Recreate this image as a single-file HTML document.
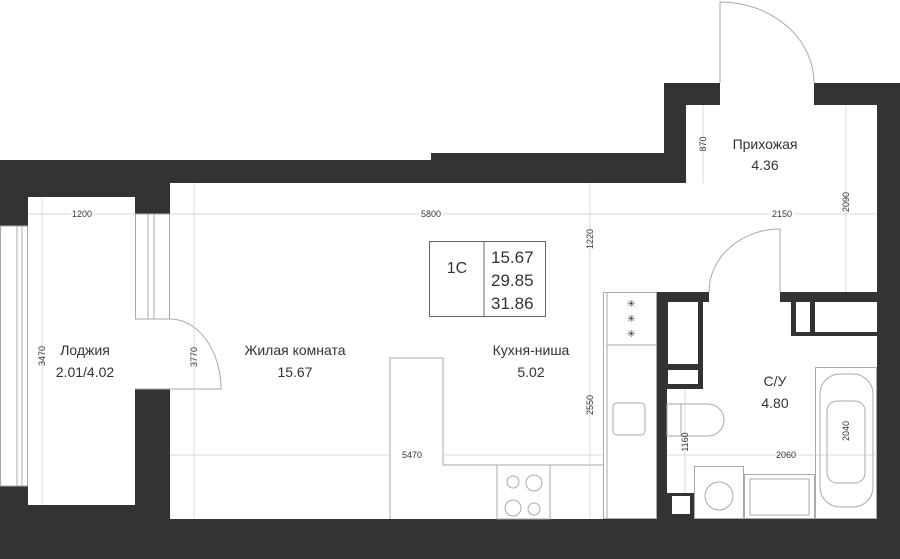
<!DOCTYPE html>
<html><head><meta charset="utf-8"><style>
html,body{margin:0;padding:0;background:#fff;}
svg{display:block;}
text{font-family:"Liberation Sans",sans-serif;fill:#333;}
.l{font-size:14px;}
.d{font-size:9px;fill:#777;}
</style></head><body>
<svg width="900" height="559" viewBox="0 0 900 559" xmlns="http://www.w3.org/2000/svg">
<g fill="#333">
<rect x="0" y="160" width="432" height="23"/>
<rect x="431" y="153" width="255" height="30"/>
<rect x="664" y="83" width="22" height="100"/>
<rect x="664" y="83" width="56" height="22"/>
<rect x="814" y="83" width="86" height="22"/>
<rect x="877" y="83" width="23" height="476"/>
<rect x="0" y="519" width="900" height="40"/>
<rect x="0" y="160" width="28" height="66"/>
<rect x="0" y="486" width="28" height="73"/>
<rect x="0" y="505" width="170" height="54"/>
<rect x="28" y="160" width="107" height="37"/>
<rect x="135" y="160" width="35" height="54"/>
<rect x="135" y="389" width="35" height="130"/>
<rect x="657" y="292" width="52" height="10"/>
<rect x="780" y="292" width="97" height="10"/>
<rect x="657" y="292" width="10" height="227"/>
<rect x="667" y="302" width="36" height="87"/>
<rect x="791" y="302" width="86" height="34"/>
<rect x="667" y="493" width="27" height="26"/>
</g>
<g fill="#fff">
<rect x="668" y="302" width="30" height="62"/>
<rect x="668" y="370" width="30" height="14"/>
<rect x="796" y="302" width="14" height="30"/>
<rect x="815" y="302" width="62" height="30"/>
<rect x="672" y="496" width="18" height="18"/>
</g>
<g fill="none" stroke="#aaa" stroke-width="1">
<rect x="0.5" y="226" width="27" height="260"/>
<line x1="17" y1="226" x2="17" y2="486"/><line x1="22" y1="226" x2="22" y2="486"/>
<rect x="135.5" y="214" width="34" height="105"/>
<rect x="148" y="214" width="6" height="105"/>
<line x1="135" y1="319" x2="170" y2="319"/><line x1="135" y1="389" x2="222" y2="389"/>
<path d="M170 319 A51 70 0 0 1 221 389"/>
<path d="M720 83 L720 2 A94 81 0 0 1 814 83"/>
<path d="M780 292 L780 229 A71 63 0 0 0 709 292"/>
<rect x="603.5" y="292.5" width="53" height="226"/>
<line x1="607" y1="292" x2="607" y2="519"/>
<line x1="607" y1="345" x2="657" y2="345"/>
<rect x="613" y="403" width="32" height="32" rx="4"/>
<path d="M390 519 V358 H443 V465 H603"/>
<rect x="497" y="465" width="53" height="54"/>
<circle cx="513" cy="482" r="6"/><circle cx="534" cy="483" r="8"/>
<circle cx="513" cy="508" r="8"/><circle cx="534" cy="509" r="6"/>
<rect x="815.5" y="367.5" width="61" height="151"/>
<rect x="820" y="374" width="53" height="133" rx="20"/>
<rect x="827" y="401" width="38" height="82" rx="10"/>
<rect x="667" y="404" width="14" height="32"/>
<path d="M681 404 H708 A16 16 0 0 1 708 436 H681"/>
<rect x="694.5" y="466.5" width="49" height="52"/>
<circle cx="719" cy="496" r="14"/>
<rect x="744.5" y="474.5" width="70" height="44"/>
<rect x="750" y="479" width="59" height="36"/>
</g>
<g fill="#777" font-size="10"><text x="627" y="307">✳</text><text x="627" y="322">✳</text><text x="627" y="337">✳</text></g>
<g stroke="#ccc" stroke-width="0.7" fill="none">
<line x1="28" y1="214" x2="135" y2="214"/>
<line x1="170" y1="214" x2="877" y2="214"/>
<line x1="42" y1="197" x2="42" y2="505"/>
<line x1="194" y1="183" x2="194" y2="519"/>
<line x1="590" y1="183" x2="590" y2="519"/>
<line x1="703" y1="105" x2="703" y2="183"/>
<line x1="846" y1="105" x2="846" y2="292"/>
<line x1="170" y1="455" x2="390" y2="455"/>
<line x1="443" y1="455" x2="603" y2="455"/>
<line x1="667" y1="455" x2="877" y2="455"/>
<line x1="685" y1="389" x2="685" y2="493"/>
</g>
<rect x="429.5" y="241.5" width="116" height="75" fill="#fff" stroke="#666"/>
<line x1="484" y1="241" x2="484" y2="317" stroke="#666"/>
<text x="457" y="273" text-anchor="middle" style="font-size:16px">1C</text>
<text x="491" y="263" style="font-size:17px">15.67</text>
<text x="491" y="286" style="font-size:17px">29.85</text>
<text x="491" y="309" style="font-size:17px">31.86</text>
<g class="l" text-anchor="middle">
<text x="85" y="355">Лоджия</text><text x="85" y="377">2.01/4.02</text>
<text x="295" y="355">Жилая комната</text><text x="295" y="377">15.67</text>
<text x="531" y="355">Кухня-ниша</text><text x="531" y="377">5.02</text>
<text x="775" y="386">С/У</text><text x="775" y="408">4.80</text>
<text x="765" y="149">Прихожая</text><text x="765" y="170">4.36</text>
</g>
<g class="d" text-anchor="middle">
<text x="82" y="217" style="paint-order:stroke" stroke="#fff" stroke-width="4">1200</text>
<text x="431" y="217" style="paint-order:stroke" stroke="#fff" stroke-width="4">5800</text>
<text x="782" y="217" style="paint-order:stroke" stroke="#fff" stroke-width="4">2150</text>
<text x="412" y="458">5470</text>
<text x="786" y="458">2060</text>
<text transform="translate(45,356) rotate(-90)">3470</text>
<text transform="translate(197,357) rotate(-90)">3770</text>
<text transform="translate(593,239) rotate(-90)">1220</text>
<text transform="translate(593,405) rotate(-90)">2550</text>
<text transform="translate(706,144) rotate(-90)">870</text>
<text transform="translate(849,202) rotate(-90)">2090</text>
<text transform="translate(688,442) rotate(-90)">1160</text>
<text transform="translate(849,431) rotate(-90)">2040</text>
</g>
</svg>
</body></html>
